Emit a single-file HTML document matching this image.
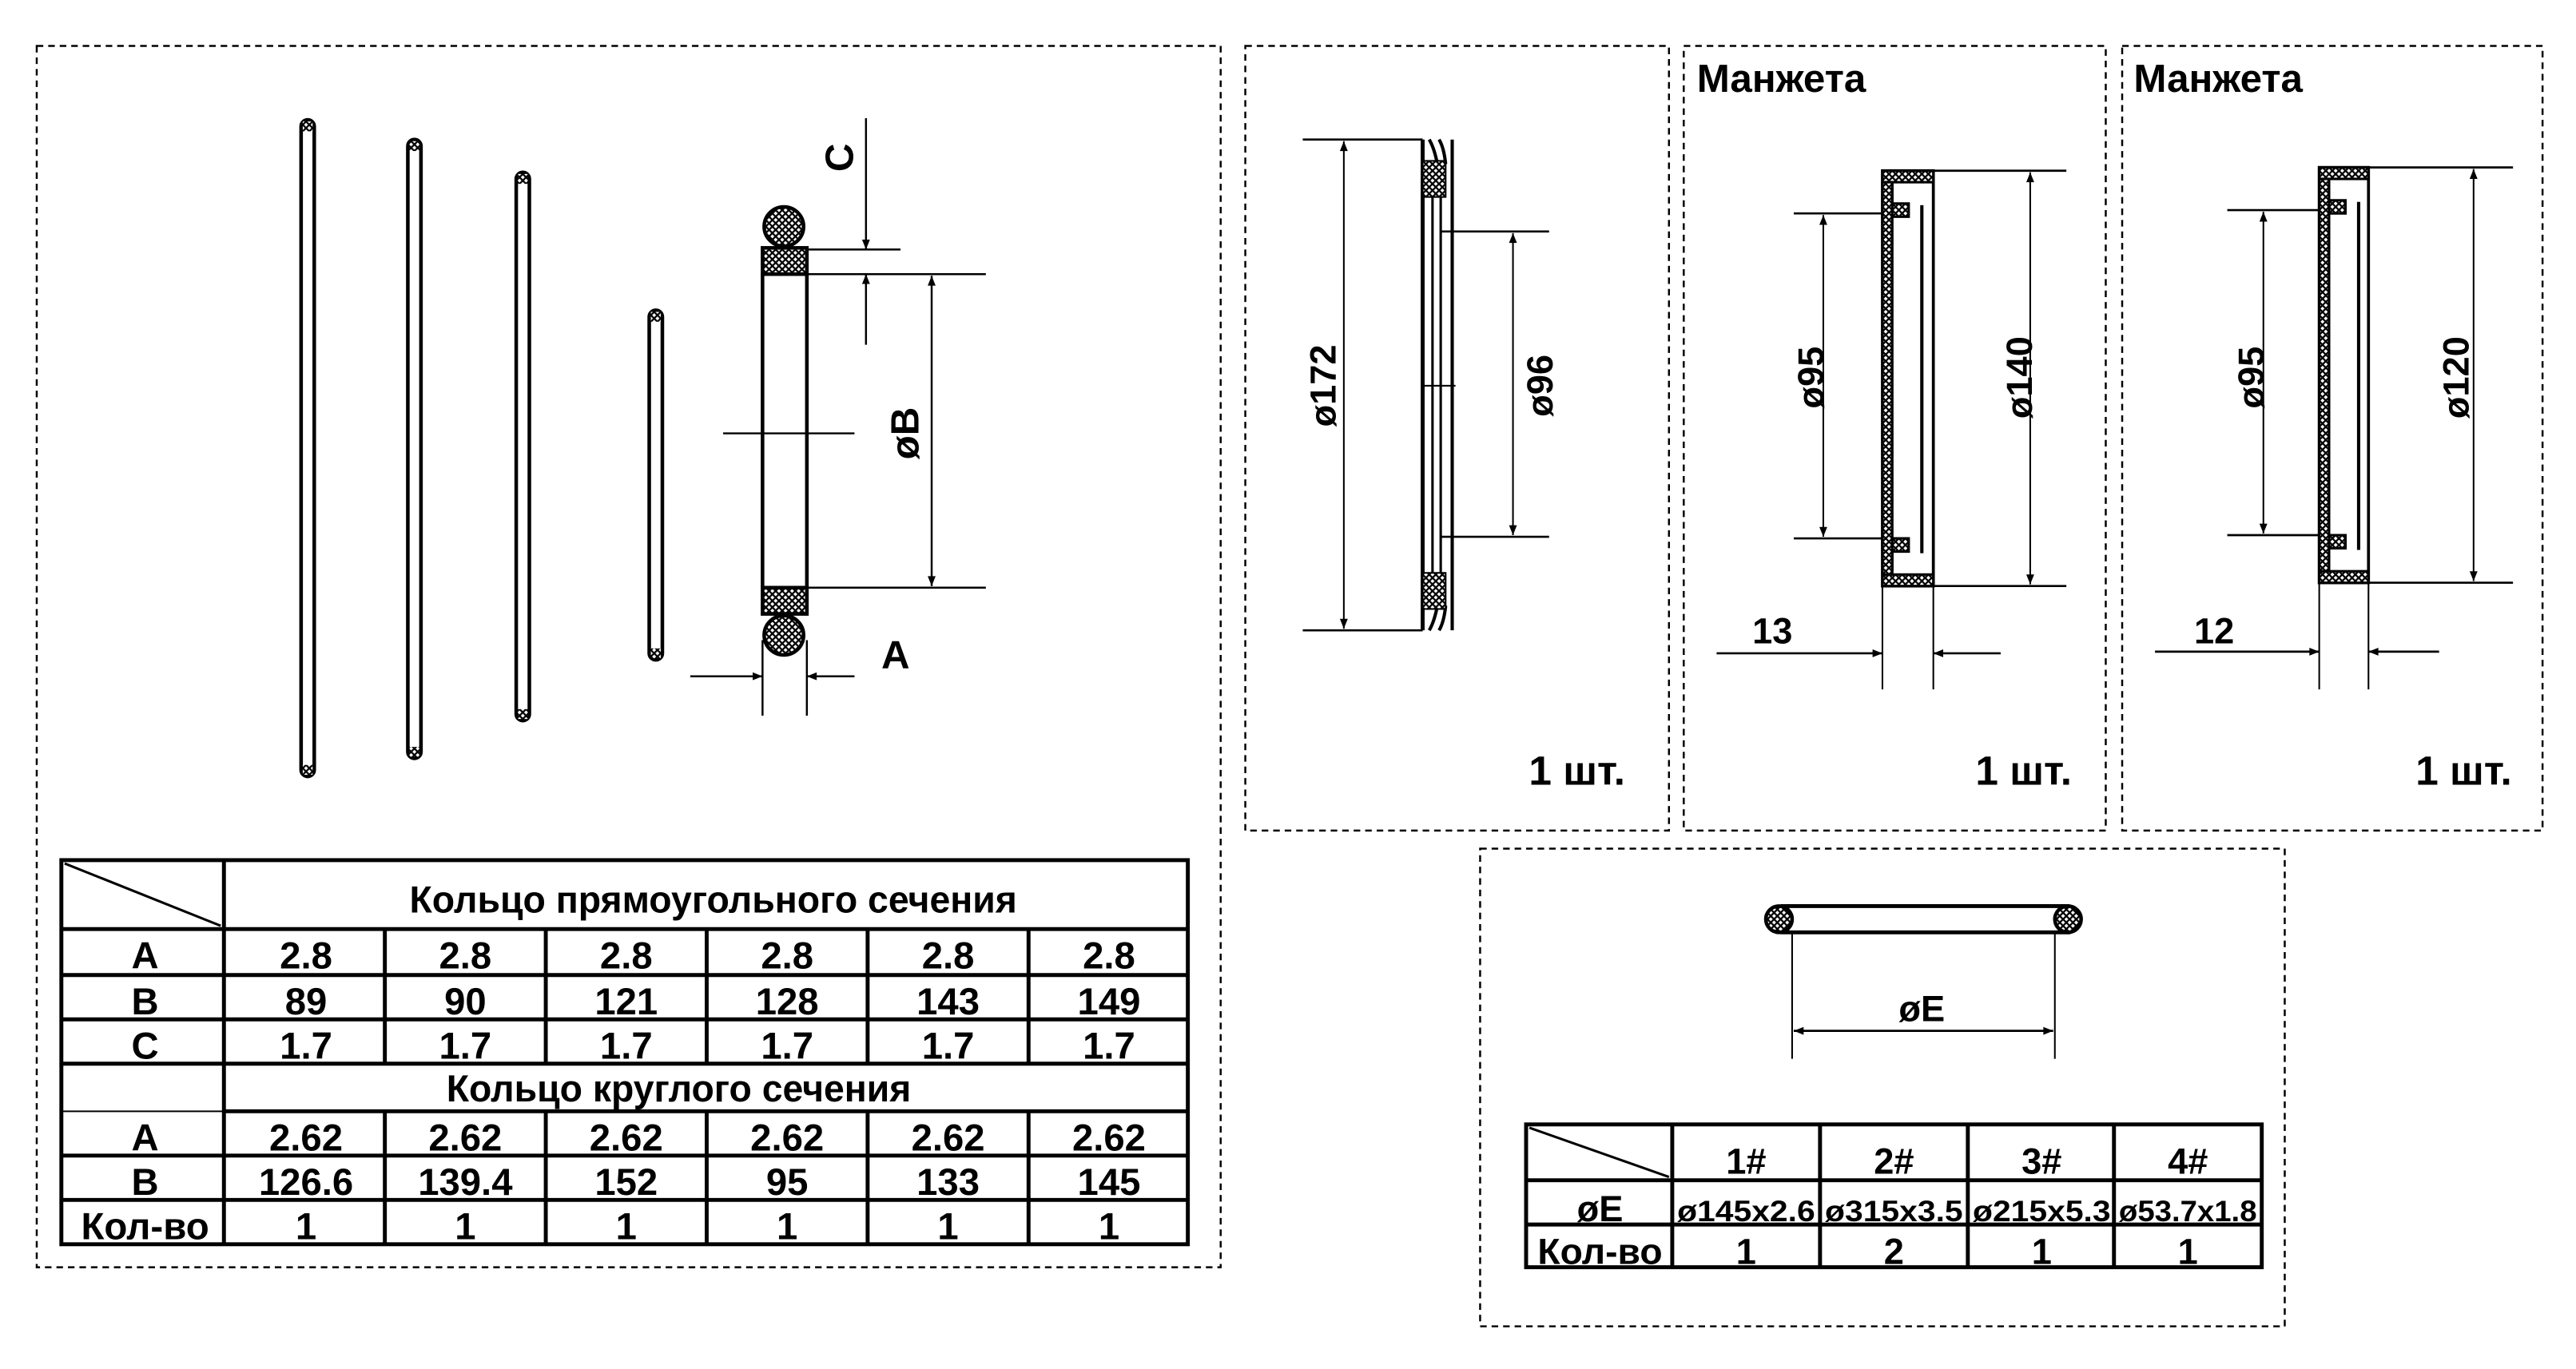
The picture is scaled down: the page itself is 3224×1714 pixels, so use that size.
<!DOCTYPE html>
<html><head><meta charset="utf-8"><style>
html,body{margin:0;padding:0;background:#fff;}
svg{display:block}
text{font-family:"Liberation Sans",sans-serif;font-weight:bold;fill:#000}
</style></head><body>
<svg width="3224" height="1714" viewBox="0 0 1568 834" xmlns="http://www.w3.org/2000/svg">
<defs>
<pattern id="h" width="4" height="4" patternUnits="userSpaceOnUse">
<rect width="4" height="4" fill="#fff"/>
<path d="M0 0L4 4M4 0L0 4" stroke="#000" stroke-width="1.1"/>
</pattern>
<marker id="a" viewBox="0 0 10 10" refX="10" refY="5" markerWidth="12" markerHeight="6" markerUnits="userSpaceOnUse" orient="auto-start-reverse">
<path d="M0 1L10 5L0 9z" fill="#000"/>
</marker>
</defs>
<g fill="none" stroke="#000" stroke-width="1.2" stroke-dasharray="4,3">
<rect x="22" y="28" width="721" height="744"/>
<rect x="758" y="28" width="258" height="478"/>
<rect x="1025" y="28" width="257" height="478"/>
<rect x="1292" y="28" width="256" height="478"/>
<rect x="901" y="517" width="490" height="291"/>
</g>

<!-- rods -->
<g stroke="#000" stroke-width="2.2" fill="#fff">
<rect x="183" y="73" width="8" height="400" rx="4"/>
<rect x="248" y="85" width="8" height="377" rx="4"/>
<rect x="314" y="105" width="8" height="334" rx="4"/>
<rect x="395" y="189" width="8" height="213" rx="4"/>
</g>
<g fill="url(#h)" stroke="none">
<rect x="184" y="74" width="6" height="6"/><rect x="184" y="466" width="6" height="6"/>
<rect x="249" y="86" width="6" height="6"/><rect x="249" y="455" width="6" height="6"/>
<rect x="315" y="106" width="6" height="6"/><rect x="315" y="432" width="6" height="6"/>
<rect x="396" y="190" width="6" height="6"/><rect x="396" y="395" width="6" height="6"/>
</g>

<!-- big ring section -->
<g stroke="#000" stroke-width="2.2">
<circle cx="477" cy="138" r="12" fill="url(#h)"/>
<rect x="464" y="151" width="27" height="16" fill="url(#h)"/>
<line x1="464" y1="167" x2="464" y2="358"/><line x1="491" y1="167" x2="491" y2="358"/>
<rect x="464" y="358" width="27" height="16" fill="url(#h)"/>
<circle cx="477" cy="387" r="12" fill="url(#h)"/>
</g>
<g stroke="#000" stroke-width="1.2" fill="none">
<line x1="440" y1="264" x2="520" y2="264"/>
<line x1="491" y1="152" x2="548" y2="152"/>
<line x1="491" y1="167" x2="600" y2="167"/>
<line x1="491" y1="358" x2="600" y2="358"/>
<line x1="527" y1="72" x2="527" y2="152" marker-end="url(#a)"/>
<line x1="527" y1="210" x2="527" y2="167" marker-end="url(#a)"/>
<line x1="567" y1="168" x2="567" y2="357" marker-start="url(#a)" marker-end="url(#a)"/>
<line x1="464" y1="390" x2="464" y2="436"/><line x1="491" y1="390" x2="491" y2="436"/>
<line x1="420" y1="412" x2="464" y2="412" marker-end="url(#a)"/>
<line x1="520" y1="412" x2="491" y2="412" marker-end="url(#a)"/>
</g>
<text transform="translate(519,96) rotate(-90)" font-size="24" text-anchor="middle">C</text>
<text transform="translate(559,264) rotate(-90)" font-size="24" text-anchor="middle">øB</text>
<text x="545" y="407" font-size="24" text-anchor="middle">A</text>

<!-- left table -->
<g stroke="#000" stroke-width="2.4" fill="none">
<rect x="37" y="524" width="686" height="234"/>
<line x1="37" y1="566" x2="723" y2="566"/>
<line x1="37" y1="594" x2="723" y2="594"/>
<line x1="37" y1="621" x2="723" y2="621"/>
<line x1="37" y1="648" x2="723" y2="648"/>
<line x1="136" y1="677" x2="723" y2="677"/>
<line x1="37" y1="677" x2="136" y2="677" stroke-width="1"/>
<line x1="37" y1="704" x2="723" y2="704"/>
<line x1="37" y1="731" x2="723" y2="731"/>
<line x1="136" y1="524" x2="136" y2="758"/>
<line x1="39" y1="526" x2="134" y2="564" stroke-width="1.5"/>
<g>
<line x1="234" y1="566" x2="234" y2="648"/><line x1="332" y1="566" x2="332" y2="648"/><line x1="430" y1="566" x2="430" y2="648"/><line x1="528" y1="566" x2="528" y2="648"/><line x1="626" y1="566" x2="626" y2="648"/>
<line x1="234" y1="677" x2="234" y2="758"/><line x1="332" y1="677" x2="332" y2="758"/><line x1="430" y1="677" x2="430" y2="758"/><line x1="528" y1="677" x2="528" y2="758"/><line x1="626" y1="677" x2="626" y2="758"/>
</g>
</g>
<g font-size="23" text-anchor="middle">
<text x="434" y="556" textLength="370" lengthAdjust="spacingAndGlyphs">Кольцо прямоугольного сечения</text>
<text x="413" y="671" textLength="283" lengthAdjust="spacingAndGlyphs">Кольцо круглого сечения</text>
<text x="88" y="590">A</text><text x="88" y="618">B</text><text x="88" y="645">C</text>
<text x="88" y="701">A</text><text x="88" y="728">B</text>
<text x="88" y="755" textLength="78" lengthAdjust="spacingAndGlyphs">Кол-во</text>
<text x="186" y="590">2.8</text><text x="283" y="590">2.8</text><text x="381" y="590">2.8</text><text x="479" y="590">2.8</text><text x="577" y="590">2.8</text><text x="675" y="590">2.8</text>
<text x="186" y="618">89</text><text x="283" y="618">90</text><text x="381" y="618">121</text><text x="479" y="618">128</text><text x="577" y="618">143</text><text x="675" y="618">149</text>
<text x="186" y="645">1.7</text><text x="283" y="645">1.7</text><text x="381" y="645">1.7</text><text x="479" y="645">1.7</text><text x="577" y="645">1.7</text><text x="675" y="645">1.7</text>
<text x="186" y="701">2.62</text><text x="283" y="701">2.62</text><text x="381" y="701">2.62</text><text x="479" y="701">2.62</text><text x="577" y="701">2.62</text><text x="675" y="701">2.62</text>
<text x="186" y="728">126.6</text><text x="283" y="728">139.4</text><text x="381" y="728">152</text><text x="479" y="728">95</text><text x="577" y="728">133</text><text x="675" y="728">145</text>
<text x="186" y="755">1</text><text x="283" y="755">1</text><text x="381" y="755">1</text><text x="479" y="755">1</text><text x="577" y="755">1</text><text x="675" y="755">1</text>
</g>

<!-- box2 part -->
<g stroke="#000" fill="none">
<line x1="793" y1="85" x2="866" y2="85" stroke-width="1.3"/>
<line x1="793" y1="384" x2="866" y2="384" stroke-width="1.3"/>
<line x1="818" y1="86" x2="818" y2="383" stroke-width="1" marker-start="url(#a)" marker-end="url(#a)"/>
<line x1="866" y1="85" x2="866" y2="384" stroke-width="2.4"/>
<line x1="884" y1="85" x2="884" y2="384" stroke-width="2"/>
<line x1="872" y1="100" x2="872" y2="370" stroke-width="1.5"/>
<line x1="877" y1="115" x2="877" y2="355" stroke-width="1.5"/>
<path d="M870 85 Q873 90 875 100 M876 85 Q879 90 880 100" stroke-width="2"/>
<path d="M870 384 Q873 379 875 369 M876 384 Q879 379 880 369" stroke-width="2"/>
<line x1="866" y1="235" x2="886" y2="235" stroke-width="1"/>
<line x1="877" y1="141" x2="943" y2="141" stroke-width="1.3"/>
<line x1="877" y1="327" x2="943" y2="327" stroke-width="1.3"/>
<line x1="921" y1="142" x2="921" y2="326" stroke-width="1" marker-start="url(#a)" marker-end="url(#a)"/>
</g>
<rect x="866" y="98" width="14" height="22" fill="url(#h)" stroke="#000" stroke-width="1"/>
<rect x="866" y="349" width="14" height="22" fill="url(#h)" stroke="#000" stroke-width="1"/>
<text transform="translate(813,235) rotate(-90)" font-size="22" text-anchor="middle">ø172</text>
<text transform="translate(945,235) rotate(-90)" font-size="22" text-anchor="middle">ø96</text>
<text x="960" y="478" font-size="25" text-anchor="middle">1 шт.</text>

<!-- box3 -->
<text x="1033" y="56" font-size="24">Манжета</text>
<g stroke="#000" fill="none">
<rect x="1146" y="104" width="31" height="253" stroke-width="1.8"/>
<rect x="1146" y="104" width="31" height="7" fill="url(#h)" stroke-width="1.5"/>
<rect x="1146" y="350" width="31" height="7" fill="url(#h)" stroke-width="1.5"/>
<path d="M1146 111 V132 M1152 111 V124 H1162 V132 H1146" fill="url(#h)" stroke-width="1.5"/>
<path d="M1146 328 V336 M1152 348 V336 H1162 V328 H1146" fill="url(#h)" stroke-width="1.5"/>
<rect x="1146" y="111" width="6" height="239" fill="url(#h)" stroke-width="1.5"/>
<line x1="1170" y1="125" x2="1170" y2="337" stroke-width="2"/>
<line x1="1177" y1="104" x2="1258" y2="104" stroke-width="1.3"/>
<line x1="1177" y1="357" x2="1258" y2="357" stroke-width="1.3"/>
<line x1="1236" y1="105" x2="1236" y2="356" stroke-width="1" marker-start="url(#a)" marker-end="url(#a)"/>
<line x1="1092" y1="130" x2="1146" y2="130" stroke-width="1.3"/>
<line x1="1092" y1="328" x2="1146" y2="328" stroke-width="1.3"/>
<line x1="1110" y1="131" x2="1110" y2="327" stroke-width="1" marker-start="url(#a)" marker-end="url(#a)"/>
<line x1="1146" y1="357" x2="1146" y2="420" stroke-width="1"/>
<line x1="1177" y1="357" x2="1177" y2="420" stroke-width="1"/>
<line x1="1045" y1="398" x2="1146" y2="398" stroke-width="1.3" marker-end="url(#a)"/>
<line x1="1218" y1="398" x2="1177" y2="398" stroke-width="1.3" marker-end="url(#a)"/>
</g>
<text transform="translate(1110,230) rotate(-90)" font-size="22" text-anchor="middle">ø95</text>
<text transform="translate(1237,230) rotate(-90)" font-size="22" text-anchor="middle">ø140</text>
<text x="1079" y="392" font-size="22" text-anchor="middle">13</text>
<text x="1232" y="478" font-size="25" text-anchor="middle">1 шт.</text>

<!-- box4 -->
<text x="1299" y="56" font-size="24">Манжета</text>
<g stroke="#000" fill="none">
<rect x="1412" y="102" width="30" height="253" stroke-width="1.8"/>
<rect x="1412" y="102" width="30" height="7" fill="url(#h)" stroke-width="1.5"/>
<rect x="1412" y="348" width="30" height="7" fill="url(#h)" stroke-width="1.5"/>
<path d="M1418 109 V122 H1428 V130 H1412" fill="url(#h)" stroke-width="1.5"/>
<path d="M1418 346 V334 H1428 V326 H1412" fill="url(#h)" stroke-width="1.5"/>
<rect x="1412" y="109" width="6" height="239" fill="url(#h)" stroke-width="1.5"/>
<line x1="1436" y1="123" x2="1436" y2="335" stroke-width="2"/>
<line x1="1442" y1="102" x2="1530" y2="102" stroke-width="1.3"/>
<line x1="1442" y1="355" x2="1530" y2="355" stroke-width="1.3"/>
<line x1="1506" y1="103" x2="1506" y2="354" stroke-width="1" marker-start="url(#a)" marker-end="url(#a)"/>
<line x1="1356" y1="128" x2="1412" y2="128" stroke-width="1.3"/>
<line x1="1356" y1="326" x2="1412" y2="326" stroke-width="1.3"/>
<line x1="1378" y1="129" x2="1378" y2="325" stroke-width="1" marker-start="url(#a)" marker-end="url(#a)"/>
<line x1="1412" y1="355" x2="1412" y2="420" stroke-width="1"/>
<line x1="1442" y1="355" x2="1442" y2="420" stroke-width="1"/>
<line x1="1312" y1="397" x2="1412" y2="397" stroke-width="1.3" marker-end="url(#a)"/>
<line x1="1485" y1="397" x2="1442" y2="397" stroke-width="1.3" marker-end="url(#a)"/>
</g>
<text transform="translate(1378,230) rotate(-90)" font-size="22" text-anchor="middle">ø95</text>
<text transform="translate(1503,230) rotate(-90)" font-size="22" text-anchor="middle">ø120</text>
<text x="1348" y="392" font-size="22" text-anchor="middle">12</text>
<text x="1500" y="478" font-size="25" text-anchor="middle">1 шт.</text>

<!-- bottom ring -->
<g stroke="#000">
<line x1="1084" y1="552" x2="1260" y2="552" stroke-width="2.4"/>
<line x1="1084" y1="568" x2="1260" y2="568" stroke-width="2.4"/>
<ellipse cx="1083" cy="560" rx="8" ry="8" fill="url(#h)" stroke-width="2.2"/>
<ellipse cx="1259" cy="560" rx="8" ry="8" fill="url(#h)" stroke-width="2.2"/>
<line x1="1091" y1="568" x2="1091" y2="645" stroke-width="1"/>
<line x1="1251" y1="568" x2="1251" y2="645" stroke-width="1"/>
<line x1="1092" y1="628" x2="1250" y2="628" stroke-width="1.3" marker-start="url(#a)" marker-end="url(#a)"/>
</g>
<text x="1170" y="622" font-size="22" text-anchor="middle">øE</text>

<!-- bottom table -->
<g stroke="#000" stroke-width="2.4" fill="none">
<rect x="929" y="685" width="448" height="87"/>
<line x1="929" y1="719" x2="1377" y2="719"/>
<line x1="929" y1="746" x2="1377" y2="746"/>
<line x1="1018" y1="685" x2="1018" y2="772"/>
<line x1="1108" y1="685" x2="1108" y2="772"/>
<line x1="1198" y1="685" x2="1198" y2="772"/>
<line x1="1287" y1="685" x2="1287" y2="772"/>
<line x1="931" y1="687" x2="1016" y2="717" stroke-width="1.5"/>
</g>
<g font-size="22" text-anchor="middle">
<text x="1063" y="715">1#</text><text x="1153" y="715">2#</text><text x="1243" y="715">3#</text><text x="1332" y="715">4#</text>
<text x="974" y="744">øE</text>
<text x="974" y="770" textLength="76" lengthAdjust="spacingAndGlyphs">Кол-во</text>
<text x="1063" y="770">1</text><text x="1153" y="770">2</text><text x="1243" y="770">1</text><text x="1332" y="770">1</text>
</g>
<g font-size="18" text-anchor="middle">
<text x="1063" y="744" textLength="84" lengthAdjust="spacingAndGlyphs">ø145x2.6</text>
<text x="1153" y="744" textLength="84" lengthAdjust="spacingAndGlyphs">ø315x3.5</text>
<text x="1243" y="744" textLength="84" lengthAdjust="spacingAndGlyphs">ø215x5.3</text>
<text x="1332" y="744" textLength="84" lengthAdjust="spacingAndGlyphs">ø53.7x1.8</text>
</g>
</svg>
</body></html>
